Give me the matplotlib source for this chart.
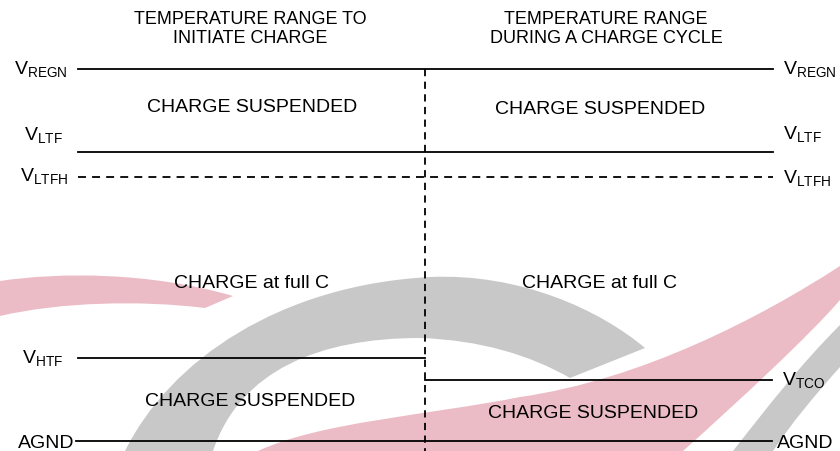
import matplotlib
matplotlib.use("Agg")
import matplotlib.pyplot as plt
from matplotlib.path import Path
from matplotlib.patches import PathPatch

plt.rcParams['font.family'] = ['Liberation Sans', 'DejaVu Sans']
plt.rcParams['mathtext.fontset'] = 'custom'
plt.rcParams['mathtext.rm'] = 'Liberation Sans'
plt.rcParams['mathtext.it'] = 'Liberation Sans'

# threshold levels (pixel rows of the diagram)
levels = ['REGN', 'LTF', 'LTFH', 'HTF', 'TCO', 'AGND']
level_y = [69, 152, 177, 358, 380, 441]
left_x0 = [78, 78, 78, 78, None, 76]
right_x1 = [773, 773, 773, None, 772, 772]
divider_x = 425

headings = ['TEMPERATURE RANGE TO\nINITIATE CHARGE',
            'TEMPERATURE RANGE\nDURING A CHARGE CYCLE']
heading_x = [250, 606]

zone_text = ['CHARGE SUSPENDED', 'CHARGE at full C', 'CHARGE SUSPENDED']
zone_left_y = [108, 283, 401]
zone_right_y = [110, 283, 413]
zone_left_x = [252, 252, 250]
zone_right_x = [600, 599, 593]

# watermark outlines
C4 = Path.CURVE4
gray_arc = [(125, 451), (170, 360), (280, 285), (430, 277), (520, 273), (600, 310), (645, 348),
            (570, 378), (530, 355), (480, 340), (420, 338), (320, 338), (240, 370), (213, 451)]
gray_arc_codes = [Path.MOVETO, C4, C4, C4, C4, C4, C4, Path.LINETO, C4, C4, C4, C4, C4, C4]
red_left = [(0, 281), (60, 272), (150, 272), (233, 296), (205, 308), (140, 300), (60, 302), (0, 316)]
red_left_codes = [Path.MOVETO, C4, C4, C4, Path.LINETO, C4, C4, C4]
red_main = [(258, 451), (320, 422), (430, 415), (520, 397), (640, 380), (760, 318), (840, 266),
            (840, 300), (810, 335), (740, 400), (683, 451)]
red_main_codes = [Path.MOVETO, C4, C4, C4, C4, C4, C4, Path.LINETO, C4, C4, C4]
gray_right = [(733, 451), (765, 410), (800, 365), (840, 325), (840, 367), (815, 395), (790, 425), (773, 451)]
gray_right_codes = [Path.MOVETO, C4, C4, C4, Path.LINETO, C4, C4, C4]

fig = plt.figure(figsize=(8.4, 4.51), dpi=100)
ax = fig.add_axes([0, 0, 1, 1])
ax.set_xlim(0, 840)
ax.set_ylim(451, 0)
ax.axis('off')

for pts, codes, col in [(gray_arc, gray_arc_codes, '#c8c8c8'),
                        (red_left, red_left_codes, '#ebbcc5'),
                        (red_main, red_main_codes, '#ebbcc5'),
                        (gray_right, gray_right_codes, '#c8c8c8')]:
    ax.add_patch(PathPatch(Path(pts, codes), fc=col, ec='none', zorder=0))

lw = 1.3
for name, y, x0, x1 in zip(levels, level_y, left_x0, right_x1):
    start = x0 if x0 is not None else divider_x
    end = x1 if x1 is not None else divider_x
    ls = (0, (4.4, 3.4)) if name == 'LTFH' else '-'
    ax.plot([start, end], [y, y], color='black', lw=lw, ls=ls, zorder=2)

ax.plot([divider_x, divider_x], [level_y[0], 451], color='black', lw=lw,
        ls=(0, (4.0, 3.0)), zorder=2)

# level labels
lab = lambda n: n if n == 'AGND' else r'$\mathrm{V_{%s}}$' % n
left_lab = {'REGN': (68, 74), 'LTF': (63, 140), 'LTFH': (68, 181), 'HTF': (63, 363), 'AGND': (74, 448)}
right_lab = {'REGN': (783, 74), 'LTF': (783, 139), 'LTFH': (783, 183), 'TCO': (782, 385), 'AGND': (777, 448)}
for n, (x, y) in left_lab.items():
    ax.text(x, y, lab(n), ha='right', va='baseline', fontsize=14, zorder=3)
for n, (x, y) in right_lab.items():
    ax.text(x, y, lab(n), ha='left', va='baseline', fontsize=14, zorder=3)

for h, x in zip(headings, heading_x):
    ax.text(x, 29, h, ha='center', va='center', fontsize=13, linespacing=1.15, zorder=3)

for t, xl, yl, xr, yr in zip(zone_text, zone_left_x, zone_left_y, zone_right_x, zone_right_y):
    ax.text(xl, yl, t, ha='center', va='center', fontsize=14, zorder=3)
    ax.text(xr, yr, t, ha='center', va='center', fontsize=14, zorder=3)

fig.savefig('out.png', dpi=100)
